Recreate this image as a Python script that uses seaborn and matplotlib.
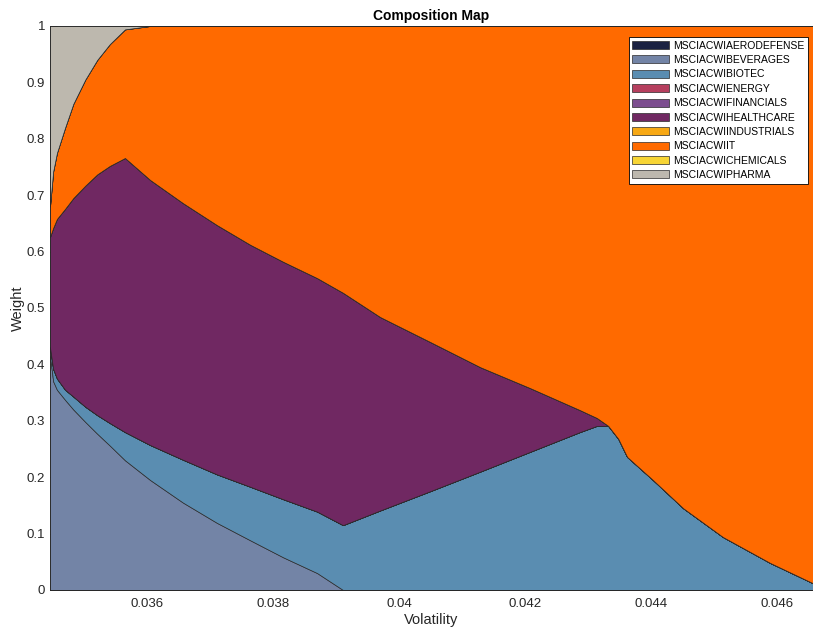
import matplotlib
matplotlib.use("Agg")
import matplotlib.pyplot as plt
import seaborn as sns
import numpy as np

# Portfolio volatility along the efficient frontier
volatility = [0.03446, 0.03451, 0.03457, 0.03470, 0.03483, 0.03502, 0.03521,
              0.03541, 0.03565, 0.03605, 0.03657, 0.03711, 0.03764, 0.03816,
              0.03870, 0.03911, 0.03970, 0.04049, 0.04129, 0.04208, 0.04287,
              0.04314, 0.04332, 0.04348, 0.04362, 0.04403, 0.04451, 0.04514,
              0.04589, 0.04657]

n = len(volatility)

# Asset weights at each frontier portfolio
w_aerodefense = [0.0] * n
w_beverages = [0.415, 0.370, 0.355, 0.337, 0.320, 0.298, 0.277, 0.256, 0.230,
               0.195, 0.155, 0.119, 0.088, 0.058, 0.030, 0.000, 0.000, 0.000,
               0.000, 0.000, 0.000, 0.000, 0.000, 0.000, 0.000, 0.000, 0.000,
               0.000, 0.000, 0.000]
w_biotec = [0.015, 0.022, 0.020, 0.018, 0.023, 0.027, 0.033, 0.040, 0.050,
            0.062, 0.076, 0.086, 0.095, 0.103, 0.109, 0.115, 0.141, 0.175,
            0.210, 0.245, 0.280, 0.291, 0.291, 0.268, 0.236, 0.195, 0.145,
            0.094, 0.048, 0.012]
w_energy = [0.0] * n
w_financials = [0.0] * n
w_healthcare = [0.196, 0.250, 0.283, 0.321, 0.352, 0.392, 0.427, 0.456, 0.486,
                0.470, 0.455, 0.442, 0.429, 0.421, 0.414, 0.412, 0.343, 0.265,
                0.185, 0.113, 0.039, 0.014, 0.000, 0.000, 0.000, 0.000, 0.000,
                0.000, 0.000, 0.000]
w_industrials = [0.0] * n
w_it = [0.054, 0.100, 0.117, 0.144, 0.167, 0.188, 0.203, 0.216, 0.228,
        0.273, 0.314, 0.353, 0.388, 0.418, 0.447, 0.473, 0.516, 0.560,
        0.605, 0.642, 0.681, 0.695, 0.709, 0.732, 0.764, 0.805, 0.855,
        0.906, 0.952, 0.988]
w_chemicals = [0.0] * n
w_pharma = [0.320, 0.258, 0.225, 0.180, 0.138, 0.095, 0.060, 0.032, 0.006,
            0.000, 0.000, 0.000, 0.000, 0.000, 0.000, 0.000, 0.000, 0.000,
            0.000, 0.000, 0.000, 0.000, 0.000, 0.000, 0.000, 0.000, 0.000,
            0.000, 0.000, 0.000]

asset_names = ["MSCIACWIAERODEFENSE", "MSCIACWIBEVERAGES", "MSCIACWIBIOTEC",
               "MSCIACWIENERGY", "MSCIACWIFINANCIALS", "MSCIACWIHEALTHCARE",
               "MSCIACWIINDUSTRIALS", "MSCIACWIIT", "MSCIACWICHEMICALS",
               "MSCIACWIPHARMA"]

x_ticks = [0.036, 0.038, 0.040, 0.042, 0.044, 0.046]
x_tick_labels = ["0.036", "0.038", "0.04", "0.042", "0.044", "0.046"]
y_ticks = [0, 0.1, 0.2, 0.3, 0.4, 0.5, 0.6, 0.7, 0.8, 0.9, 1.0]
y_tick_labels = ["0", "0.1", "0.2", "0.3", "0.4", "0.5", "0.6", "0.7", "0.8", "0.9", "1"]

sns.set_theme(style="white")
plt.rcParams["font.family"] = ["Liberation Sans", "DejaVu Sans"]

palette = sns.color_palette(["#1b2242", "#7384a6", "#5a8db1", "#b63f5e", "#7c4d8f",
                             "#702862", "#f7a814", "#ff6a00", "#f7d535", "#bdb8ae"])

weights = [w_aerodefense, w_beverages, w_biotec, w_energy, w_financials,
           w_healthcare, w_industrials, w_it, w_chemicals, w_pharma]

fig = plt.figure(figsize=(8.13, 6.27), dpi=100)
ax = fig.add_axes([50 / 813, 37 / 627, 763 / 813, 564 / 627])

polys = ax.stackplot(volatility, *weights, labels=asset_names, colors=palette,
                     edgecolor="#2a2a2a", linewidth=0.5)

ax.set_xlim(volatility[0], volatility[-1])
ax.set_ylim(0, 1)
ax.set_xticks(x_ticks)
ax.set_xticklabels(x_tick_labels)
ax.set_yticks(y_ticks)
ax.set_yticklabels(y_tick_labels)

axis_color = "#262626"
for side in ["left", "bottom", "top", "right"]:
    ax.spines[side].set_color(axis_color)
    ax.spines[side].set_linewidth(0.6)
    ax.spines[side].set_visible(True)
ax.tick_params(axis="both", direction="in", length=5, width=0.6, color=axis_color,
               labelsize=9.5, labelcolor="#262626", top=True, right=True,
               bottom=True, left=True)
ax.tick_params(axis="x", pad=6)
ax.tick_params(axis="y", pad=3.5)

ax.set_xlabel("Volatility", fontsize=10.5, color="#262626", labelpad=2)
ax.set_ylabel("Weight", fontsize=10.5, color="#262626", labelpad=1)
ax.set_title("Composition Map", fontsize=10, fontweight="bold", color="black", pad=4)

leg = ax.legend(loc="upper right", bbox_to_anchor=(758 / 763, (590 - 37) / 564),
                borderaxespad=0, fontsize=7.5, frameon=True, fancybox=False,
                handlelength=3.5, handleheight=0.8, handletextpad=0.4,
                labelspacing=0.42, borderpad=0.35, labelcolor="black")
leg.get_frame().set_edgecolor("black")
leg.get_frame().set_linewidth(0.6)
leg.get_frame().set_facecolor("white")
leg.get_frame().set_alpha(1)

fig.savefig("out.png", dpi=100)
